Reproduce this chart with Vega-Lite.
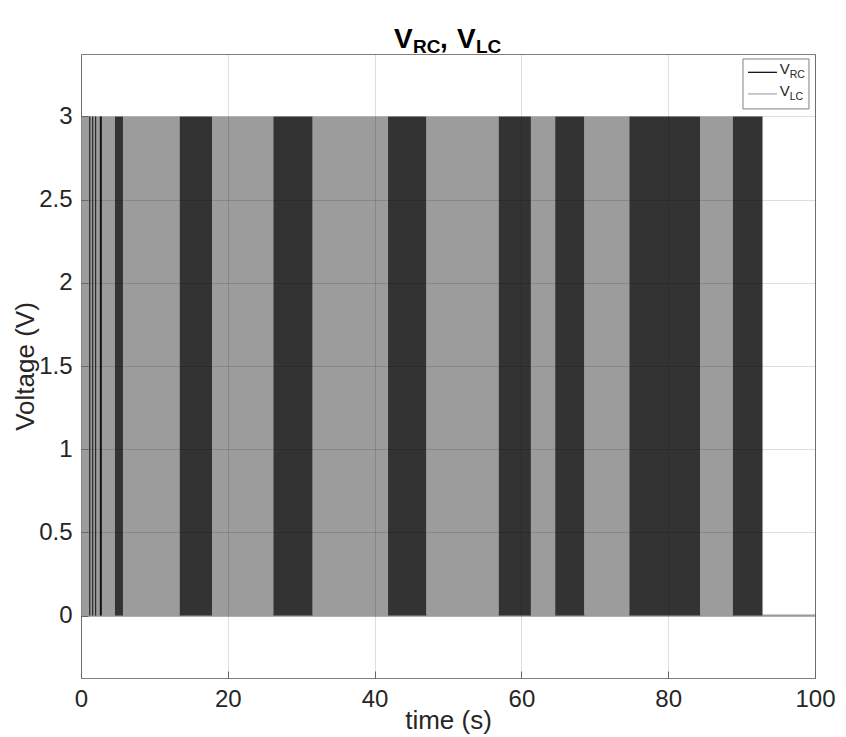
{
  "$schema": "https://vega.github.io/schema/vega-lite/v6.json",
  "width": 734,
  "height": 624,
  "autosize": "none",
  "padding": {"left": 81, "top": 54, "right": 31, "bottom": 59},
  "background": "white",
  "config": {
    "view": {"stroke": "#7f7f7f", "strokeWidth": 1},
    "font": "Liberation Sans"
  },
  "datasets": {
    "bands": [
      {"series": "V_LC", "start": 0, "end": 4.63, "low": 0, "high": 3},
      {"series": "V_RC", "start": 4.63, "end": 5.72, "low": 0, "high": 3},
      {"series": "V_LC", "start": 5.72, "end": 13.43, "low": 0, "high": 3},
      {"series": "V_RC", "start": 13.43, "end": 17.85, "low": 0, "high": 3},
      {"series": "V_LC", "start": 17.85, "end": 26.2, "low": 0, "high": 3},
      {"series": "V_RC", "start": 26.2, "end": 31.57, "low": 0, "high": 3},
      {"series": "V_LC", "start": 31.57, "end": 41.83, "low": 0, "high": 3},
      {"series": "V_RC", "start": 41.83, "end": 47.08, "low": 0, "high": 3},
      {"series": "V_LC", "start": 47.08, "end": 56.9, "low": 0, "high": 3},
      {"series": "V_RC", "start": 56.9, "end": 61.3, "low": 0, "high": 3},
      {"series": "V_LC", "start": 61.3, "end": 64.6, "low": 0, "high": 3},
      {"series": "V_RC", "start": 64.6, "end": 68.6, "low": 0, "high": 3},
      {"series": "V_LC", "start": 68.6, "end": 74.7, "low": 0, "high": 3},
      {"series": "V_RC", "start": 74.7, "end": 84.4, "low": 0, "high": 3},
      {"series": "V_LC", "start": 84.4, "end": 88.8, "low": 0, "high": 3},
      {"series": "V_RC", "start": 88.8, "end": 92.85, "low": 0, "high": 3}
    ],
    "spikes": [
      {"series": "V_RC", "t": 1.2, "low": 0, "high": 3, "w": 1},
      {"series": "V_RC", "t": 1.6, "low": 0, "high": 3, "w": 1},
      {"series": "V_RC", "t": 2.0, "low": 0, "high": 3, "w": 1},
      {"series": "V_RC", "t": 2.7, "low": 0, "high": 3, "w": 2}
    ]
  },
  "layer": [
    {
      "data": {"values": [{}]},
      "mark": {"type": "rule", "color": "#9a9a9a", "strokeWidth": 2},
      "encoding": {
        "x": {"datum": 0, "type": "quantitative", "scale": {"domain": [0, 100], "nice": false},
          "axis": {"title": "time (s)", "values": [0, 20, 40, 60, 80, 100], "grid": true, "gridColor": "#000000", "gridOpacity": 0.13,
            "domain": false, "ticks": true, "tickSize": -7, "tickColor": "#666666", "labelFlush": false, "labelFontSize": 24, "labelColor": "#262626", "labelPadding": 16,
            "titleFontSize": 26, "titleFontWeight": "normal", "titleColor": "#262626", "titlePadding": -4, "zindex": 1}},
        "x2": {"datum": 100},
        "y": {"datum": 0, "type": "quantitative", "scale": {"domain": [-0.375, 3.375], "nice": false, "zero": false},
          "axis": {"title": "Voltage (V)", "values": [0, 0.5, 1, 1.5, 2, 2.5, 3], "format": "~g", "grid": true, "gridColor": "#000000", "gridOpacity": 0.13,
            "domain": false, "ticks": true, "tickSize": -7, "tickColor": "#666666", "labelFontSize": 24, "labelColor": "#262626", "labelPadding": 16,
            "titleFontSize": 26, "titleFontWeight": "normal", "titleColor": "#262626", "titlePadding": 0, "zindex": 1}}
      }
    },
    {
      "data": {"name": "bands"},
      "mark": {"type": "rect"},
      "encoding": {
        "x": {"field": "start", "type": "quantitative"},
        "x2": {"field": "end"},
        "y": {"field": "low", "type": "quantitative"},
        "y2": {"field": "high"},
        "color": {"field": "series", "type": "nominal", "scale": {"domain": ["V_RC", "V_LC"], "range": ["#333333", "#9c9c9c"]}, "legend": null}
      }
    },
    {
      "data": {"name": "spikes"},
      "mark": {"type": "rule", "color": "#111111"},
      "encoding": {
        "x": {"field": "t", "type": "quantitative"},
        "y": {"field": "low", "type": "quantitative"},
        "y2": {"field": "high"},
        "strokeWidth": {"field": "w", "type": "quantitative", "scale": null}
      }
    },
    {
      "data": {"values": [{}]},
      "mark": {"type": "rect", "fill": "white", "stroke": "#7f7f7f", "strokeWidth": 1},
      "encoding": {"x": {"datum": 90.19}, "x2": {"datum": 99.18}, "y": {"datum": 3.345}, "y2": {"datum": 3.045}}
    },
    {
      "data": {"values": [{}]},
      "mark": {"type": "rule", "color": "#000000", "strokeWidth": 1.2},
      "encoding": {"x": {"datum": 90.87}, "x2": {"datum": 94.82}, "y": {"datum": 3.265}}
    },
    {
      "data": {"values": [{}]},
      "mark": {"type": "rule", "color": "#a6a6a6", "strokeWidth": 1.2},
      "encoding": {"x": {"datum": 90.87}, "x2": {"datum": 94.82}, "y": {"datum": 3.135}}
    },
    {
      "data": {"values": [{}]},
      "mark": {"type": "text", "text": "V", "fontSize": 15, "align": "left", "baseline": "middle", "dy": -3, "color": "#262626"},
      "encoding": {"x": {"datum": 95.2}, "y": {"datum": 3.265}}
    },
    {
      "data": {"values": [{}]},
      "mark": {"type": "text", "text": "RC", "fontSize": 10.5, "align": "left", "baseline": "middle", "dx": 10, "dy": 3, "color": "#262626"},
      "encoding": {"x": {"datum": 95.2}, "y": {"datum": 3.265}}
    },
    {
      "data": {"values": [{}]},
      "mark": {"type": "text", "text": "V", "fontSize": 15, "align": "left", "baseline": "middle", "dy": -3, "color": "#262626"},
      "encoding": {"x": {"datum": 95.2}, "y": {"datum": 3.135}}
    },
    {
      "data": {"values": [{}]},
      "mark": {"type": "text", "text": "LC", "fontSize": 10.5, "align": "left", "baseline": "middle", "dx": 10, "dy": 3, "color": "#262626"},
      "encoding": {"x": {"datum": 95.2}, "y": {"datum": 3.135}}
    },
    {
      "data": {"values": [{}]},
      "mark": {"type": "text", "text": "V", "fontSize": 28, "fontWeight": "bold", "align": "left", "baseline": "alphabetic", "dx": -54, "dy": -6, "color": "#000000"},
      "encoding": {"x": {"datum": 50}, "y": {"datum": 3.375}}
    },
    {
      "data": {"values": [{}]},
      "mark": {"type": "text", "text": "RC", "fontSize": 19, "fontWeight": "bold", "align": "left", "baseline": "alphabetic", "dx": -35, "dy": -1, "color": "#000000"},
      "encoding": {"x": {"datum": 50}, "y": {"datum": 3.375}}
    },
    {
      "data": {"values": [{}]},
      "mark": {"type": "text", "text": ",", "fontSize": 28, "fontWeight": "bold", "align": "left", "baseline": "alphabetic", "dx": -8, "dy": -6, "color": "#000000"},
      "encoding": {"x": {"datum": 50}, "y": {"datum": 3.375}}
    },
    {
      "data": {"values": [{}]},
      "mark": {"type": "text", "text": "V", "fontSize": 28, "fontWeight": "bold", "align": "left", "baseline": "alphabetic", "dx": 9, "dy": -6, "color": "#000000"},
      "encoding": {"x": {"datum": 50}, "y": {"datum": 3.375}}
    },
    {
      "data": {"values": [{}]},
      "mark": {"type": "text", "text": "LC", "fontSize": 19, "fontWeight": "bold", "align": "left", "baseline": "alphabetic", "dx": 28, "dy": -1, "color": "#000000"},
      "encoding": {"x": {"datum": 50}, "y": {"datum": 3.375}}
    }
  ]
}
